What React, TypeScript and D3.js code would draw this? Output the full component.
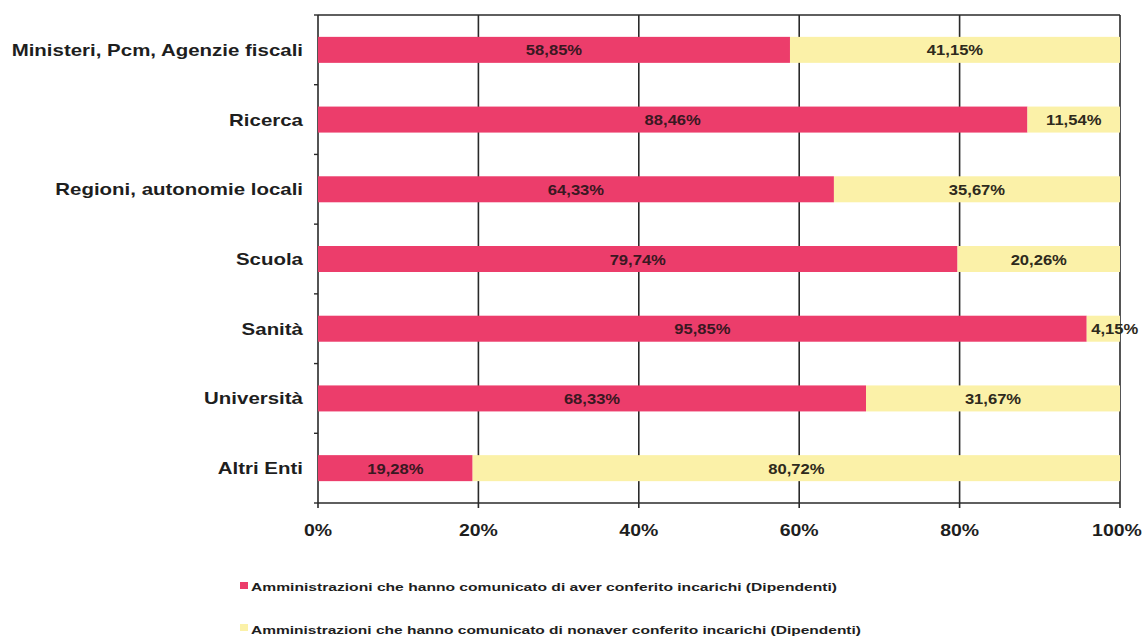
import React from "react";
import * as d3 from "d3";

const categories = [
  "Ministeri, Pcm, Agenzie fiscali",
  "Ricerca",
  "Regioni, autonomie locali",
  "Scuola",
  "Sanità",
  "Università",
  "Altri Enti",
];
const conferito = [58.85, 88.46, 64.33, 79.74, 95.85, 68.33, 19.28];
const nonConferito = [41.15, 11.54, 35.67, 20.26, 4.15, 31.67, 80.72];
const xTicks = [0, 20, 40, 60, 80, 100];
const seriesNames = [
  "Amministrazioni che hanno comunicato di aver conferito incarichi (Dipendenti)",
  "Amministrazioni che hanno comunicato di nonaver conferito incarichi (Dipendenti)",
];

const W = 1148;
const H = 636;
const PINK = "#ec3d6b";
const YELLOW = "#fbf1a8";
const FONT = "'Liberation Sans', Arial, sans-serif";

const fmt = (v: number) => v.toFixed(2).replace(".", ",") + "%";

export default function App() {
  const left = 318;
  const right = 1120;
  const top = 15;
  const bottom = 503;
  const x = d3.scaleLinear().domain([0, 100]).range([left, right]);
  const y = d3
    .scaleBand<string>()
    .domain(categories)
    .range([top, bottom])
    .paddingInner(0.627)
    .paddingOuter(0.3135);
  const step = y.step();
  const bw = y.bandwidth();

  const rows = categories.map((c, i) => ({
    c,
    segs: [
      { start: 0, end: conferito[i], color: PINK, v: conferito[i] },
      { start: conferito[i], end: conferito[i] + nonConferito[i], color: YELLOW, v: nonConferito[i] },
    ],
  }));

  const axisColor = "#2a2a2a";
  const textColor = "#1e1e1e";

  return (
    <svg
      width={W}
      height={H}
      style={{ position: "absolute", left: 0, top: 0, background: "#fff" }}
      fontFamily={FONT}
    >
      <rect x={0} y={0} width={W} height={H} fill="#fff" />
      {xTicks.map((t) => (
        <line
          key={"g" + t}
          x1={x(t)}
          x2={x(t)}
          y1={top}
          y2={bottom + 5}
          stroke={axisColor}
          strokeWidth={1.6}
        />
      ))}
      <line x1={left} x2={right} y1={top} y2={top} stroke={axisColor} strokeWidth={1.6} />
      <line x1={left} x2={right} y1={bottom} y2={bottom} stroke={axisColor} strokeWidth={1.6} />
      {d3.range(categories.length + 1).map((i) => (
        <line
          key={"yt" + i}
          x1={left - 4}
          x2={left}
          y1={top + i * step}
          y2={top + i * step}
          stroke={axisColor}
          strokeWidth={1.4}
        />
      ))}
      {rows.map((r) =>
        r.segs.map((s, j) => (
          <rect
            key={r.c + j}
            x={x(s.start)}
            y={y(r.c)!}
            width={x(s.end) - x(s.start)}
            height={bw}
            fill={s.color}
          />
        ))
      )}
      {rows.map((r) =>
        r.segs.map((s, j) => {
          const cx = (x(s.start) + x(s.end)) / 2;
          const lx = Math.max(cx, x(s.start) + 28);
          const cy = y(r.c)! + bw / 2 + 5.5;
          return (
            <text
              key={"v" + r.c + j}
              transform={`translate(${lx},${cy}) scale(1.07,1)`}
              textAnchor="middle"
              fontSize={15.5}
              fontWeight="bold"
              fill={j === 0 ? "#3a1822" : "#2e2a1c"}
            >
              {fmt(s.v)}
            </text>
          );
        })
      )}
      {categories.map((c) => (
        <text
          key={"c" + c}
          transform={`translate(303,${y(c)! + bw / 2 + 6}) scale(1.24,1)`}
          textAnchor="end"
          fontSize={16.5}
          fontWeight="bold"
          fill={textColor}
        >
          {c}
        </text>
      ))}
      {xTicks.map((t) => (
        <text
          key={"xl" + t}
          transform={`translate(${x(t) - (t === 100 ? 3 : 0)},536) scale(1.18,1)`}
          textAnchor="middle"
          fontSize={16.5}
          fontWeight="bold"
          fill={textColor}
        >
          {t + "%"}
        </text>
      ))}
      <rect x={240} y={582} width={8} height={7} fill={PINK} />
      <rect x={240} y={624} width={8} height={7} fill={YELLOW} />
      <text
        x={251}
        y={591}
        fontSize={11.5}
        fontWeight="bold"
        fill={textColor}
        textLength={586}
        lengthAdjust="spacingAndGlyphs"
      >
        {seriesNames[0]}
      </text>
      <text
        x={251}
        y={634}
        fontSize={11.5}
        fontWeight="bold"
        fill={textColor}
        textLength={610}
        lengthAdjust="spacingAndGlyphs"
      >
        {seriesNames[1]}
      </text>
    </svg>
  );
}
